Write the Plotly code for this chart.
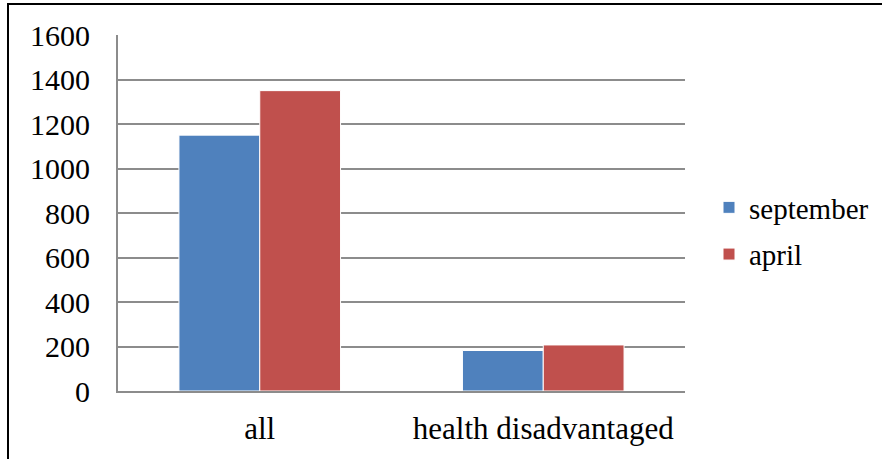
import plotly.graph_objects as go

categories = ["all", "health disadvantaged"]
september = [1150, 182]
april = [1350, 207]
y_ticks = [0, 200, 400, 600, 800, 1000, 1200, 1400, 1600]

W, H = 882, 459
ml, mr, mt, mb = 118, 197, 35, 68
pw, ph = W - ml - mr, H - mt - mb

def px_x(x):
    return (x - ml) / pw

def px_y(y):
    return (H - mb - y) / ph

font_family = "Liberation Serif, Times New Roman, serif"

fig = go.Figure()
fig.add_trace(go.Bar(name="september", x=categories, y=september,
                     marker=dict(color="#4F81BD", line=dict(color="white", width=1)),
                     legendgroup="a"))
fig.add_trace(go.Bar(name="april", x=categories, y=april,
                     marker=dict(color="#C0504D", line=dict(color="white", width=1)),
                     legendgroup="b"))

fig.update_layout(
    width=W, height=H,
    margin=dict(l=ml, r=mr, t=mt, b=mb, pad=0, autoexpand=False),
    paper_bgcolor="white", plot_bgcolor="white",
    barmode="group", bargap=0.43, bargroupgap=0.0,
    font=dict(family=font_family, size=28, color="black"),
    xaxis=dict(showline=True, linecolor="#8c8c8c", linewidth=2, showgrid=False,
               ticks="outside", ticklen=9, tickcolor="rgba(0,0,0,0)",
               tickfont=dict(size=31), automargin=False),
    yaxis=dict(range=[0, 1600], tickvals=y_ticks, showline=True, linecolor="#8c8c8c",
               linewidth=2, showgrid=True, gridcolor="#8c8c8c", gridwidth=2,
               zeroline=False, ticks="outside", ticklen=20, tickcolor="rgba(0,0,0,0)",
               tickfont=dict(size=30), automargin=False),
    legend=dict(x=px_x(709), y=px_y(231), xanchor="left", yanchor="middle",
                font=dict(size=29), tracegroupgap=6, bgcolor="rgba(0,0,0,0)"),
    showlegend=True,
    shapes=[dict(type="rect", xref="paper", yref="paper",
                 x0=px_x(8), x1=px_x(900), y0=px_y(480), y1=px_y(4),
                 line=dict(color="black", width=2), layer="below")],
)

fig.write_html("out.html", config={"displayModeBar": False},
               post_script="document.body.style.margin='0';")
